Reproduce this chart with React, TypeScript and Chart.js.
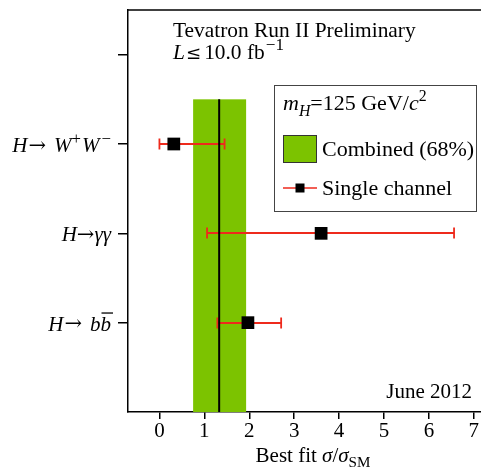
import React, { useEffect, useRef } from "react";
import { Chart, registerables } from "chart.js";

Chart.register(...registerables);

// ---- data ----
const channelPositions = [3, 2, 1];
const bestFit = [0.32, 3.6, 1.97];
const errLow = [0.32, 2.54, 0.68];
const errHigh = [1.13, 2.96, 0.74];
const combinedValue = 1.33;
const combinedLow = 0.58;
const combinedHigh = 0.6;
const combinedBandTop = 3.5;
const xTickValues = [0, 1, 2, 3, 4, 5, 6, 7];
const yTickValues = [1, 2, 3, 4];
const xMin = -0.7;
const xMax = 7.16;
const yMin = 0;
const yMax = 4.5;

const SERIF = "'Liberation Serif', 'Times New Roman', serif";
const DJ = "'DejaVu Serif', serif";
const GREEN = "#7cc300";
const RED = "#ee2a1c";

type Seg = { t: string; i?: boolean; s?: number; dy?: number; o?: boolean; f?: string; gap?: number };

const fnt = (size: number, italic?: boolean, fam?: string) =>
  `${italic ? "italic " : ""}${size}px ${fam || SERIF}`;

function segWidth(ctx: CanvasRenderingContext2D, s: Seg, size: number) {
  ctx.font = fnt(size * (s.s || 1), s.i, s.f);
  return ctx.measureText(s.t).width + (s.gap || 0);
}

function richWidth(ctx: CanvasRenderingContext2D, segs: Seg[], size: number) {
  let w = 0;
  for (const s of segs) w += segWidth(ctx, s, size);
  return w;
}

function drawRich(
  ctx: CanvasRenderingContext2D,
  segs: Seg[],
  x: number,
  y: number,
  size: number,
  align: "left" | "right" | "center" = "left"
) {
  const w = richWidth(ctx, segs, size);
  let cx = align === "right" ? x - w : align === "center" ? x - w / 2 : x;
  ctx.save();
  ctx.textAlign = "left";
  ctx.textBaseline = "alphabetic";
  ctx.fillStyle = "#000";
  for (const s of segs) {
    const sz = size * (s.s || 1);
    ctx.font = fnt(sz, s.i, s.f);
    const sw = ctx.measureText(s.t).width;
    const yy = y + (s.dy || 0) * size;
    ctx.fillText(s.t, cx, yy);
    if (s.o) {
      ctx.strokeStyle = "#000";
      ctx.lineWidth = 1.3;
      ctx.beginPath();
      ctx.moveTo(cx + 1, yy - 0.84 * sz);
      ctx.lineTo(cx + sw + 2, yy - 0.84 * sz);
      ctx.stroke();
    }
    cx += sw + (s.gap || 0);
  }
  ctx.restore();
}

const ARROW: Seg = { t: "\u2192", f: DJ, s: 1.0, dy: -0.02 };

const channelLabels: Seg[][] = [
  [
    { t: "H", i: true, gap: 1 },
    { ...ARROW, gap: 8 },
    { t: "W", i: true },
    { t: "+", s: 0.8, dy: -0.4, gap: 1 },
    { t: "W", i: true, gap: 2 },
    { t: "\u2212", s: 0.8, dy: -0.4 },
  ],
  [{ t: "H", i: true }, { ...ARROW }, { t: "\u03b3\u03b3", i: true }],
  [
    { t: "H", i: true, gap: 1 },
    { ...ARROW, gap: 8 },
    { t: "b", i: true },
    { t: "b", i: true, o: true },
  ],
];

const decorPlugin = {
  id: "decor",
  beforeDatasetsDraw(chart: any) {
    const ctx: CanvasRenderingContext2D = chart.ctx;
    const xs = chart.scales.x;
    const ys = chart.scales.y;
    const ca = chart.chartArea;
    ctx.save();
    // combined band
    const bx0 = xs.getPixelForValue(combinedValue - combinedLow);
    const bx1 = xs.getPixelForValue(combinedValue + combinedHigh);
    const by0 = ys.getPixelForValue(combinedBandTop);
    const by1 = ys.getPixelForValue(0);
    ctx.fillStyle = GREEN;
    ctx.fillRect(bx0, by0, bx1 - bx0, by1 - by0);
    // error bars
    ctx.strokeStyle = RED;
    ctx.lineWidth = 1.8;
    for (let k = 0; k < bestFit.length; k++) {
      const y = Math.round(ys.getPixelForValue(channelPositions[k]));
      const xl = xs.getPixelForValue(bestFit[k] - errLow[k]);
      const xh = xs.getPixelForValue(bestFit[k] + errHigh[k]);
      ctx.beginPath();
      ctx.moveTo(xl, y);
      ctx.lineTo(xh, y);
      ctx.moveTo(xl, y - 5.5);
      ctx.lineTo(xl, y + 5.5);
      ctx.moveTo(xh, y - 5.5);
      ctx.lineTo(xh, y + 5.5);
      ctx.stroke();
    }
    // combined central line
    const cx = xs.getPixelForValue(combinedValue);
    ctx.strokeStyle = "#000";
    ctx.lineWidth = 2;
    ctx.beginPath();
    ctx.moveTo(cx, by0);
    ctx.lineTo(cx, by1);
    ctx.stroke();
    // top frame line
    ctx.lineWidth = 1.5;
    ctx.beginPath();
    ctx.moveTo(ca.left, ca.top);
    ctx.lineTo(ca.right, ca.top);
    ctx.stroke();
    ctx.restore();
  },
  afterDraw(chart: any) {
    const ctx: CanvasRenderingContext2D = chart.ctx;
    const ys = chart.scales.y;
    const xs = chart.scales.x;
    // channel labels
    for (let k = 0; k < channelLabels.length; k++) {
      const y = ys.getPixelForValue(channelPositions[k]);
      drawRich(ctx, channelLabels[k], 111, y + 8, 21, "right");
    }
    // axis title
    drawRich(
      ctx,
      [
        { t: "Best fit " },
        { t: "\u03c3", i: true },
        { t: "/" },
        { t: "\u03c3", i: true },
        { t: "SM", s: 0.72, dy: 0.25 },
      ],
      313,
      462,
      21,
      "center"
    );
    // header
    drawRich(ctx, [{ t: "Tevatron Run II Preliminary" }], 173, 37, 21.4);
    drawRich(
      ctx,
      [
        { t: "L", i: true, gap: 1 },
        { t: "\u2264", f: DJ, s: 0.85, gap: 3 },
        { t: "10.0 fb", gap: 1 },
        { t: "\u22121", s: 0.8, dy: -0.4 },
      ],
      173,
      59,
      21.4
    );
    drawRich(ctx, [{ t: "June 2012" }], 472, 398, 21, "right");
    // legend
    ctx.save();
    ctx.strokeStyle = "#444";
    ctx.lineWidth = 1;
    ctx.strokeRect(274.5, 85.5, 202, 126);
    ctx.fillStyle = GREEN;
    ctx.fillRect(283, 135, 34, 28);
    ctx.strokeStyle = "#333";
    ctx.strokeRect(283.5, 135.5, 33, 27);
    ctx.strokeStyle = RED;
    ctx.lineWidth = 1.5;
    ctx.beginPath();
    ctx.moveTo(283, 188);
    ctx.lineTo(317, 188);
    ctx.stroke();
    ctx.fillStyle = "#000";
    ctx.fillRect(295.5, 183.5, 9, 9);
    ctx.restore();
    drawRich(
      ctx,
      [
        { t: "m", i: true },
        { t: "H", i: true, s: 0.72, dy: 0.25 },
        { t: "=125 GeV/" },
        { t: "c", i: true },
        { t: "2", s: 0.72, dy: -0.42 },
      ],
      283,
      110,
      22
    );
    drawRich(ctx, [{ t: "Combined (68%)" }], 322, 156, 22);
    drawRich(ctx, [{ t: "Single channel" }], 322, 195, 22);
  },
};

export default function App() {
  const ref = useRef<HTMLCanvasElement | null>(null);
  useEffect(() => {
    if (!ref.current) return;
    const chart = new Chart(ref.current, {
      type: "scatter",
      data: {
        datasets: [
          {
            label: "Single channel",
            data: bestFit.map((v, k) => ({ x: v, y: channelPositions[k] })),
            pointStyle: "rect",
            pointRadius: 9,
            pointHoverRadius: 9,
            backgroundColor: "#000",
            borderColor: "#000",
            borderWidth: 0,
          },
        ],
      },
      options: {
        responsive: false,
        animation: false,
        devicePixelRatio: 1,
        layout: { autoPadding: false, padding: { top: 10, left: 0, right: 0, bottom: 0 } },
        plugins: {
          legend: { display: false },
          tooltip: { enabled: false },
        },
        scales: {
          x: {
            type: "linear",
            min: xMin,
            max: xMax,
            afterBuildTicks: (s: any) => {
              s.ticks = xTickValues.map((v) => ({ value: v }));
            },
            afterFit: (s: any) => {
              s.height = 59;
              s.paddingLeft = 0;
              s.paddingRight = 0;
            },
            grid: {
              display: true,
              drawOnChartArea: false,
              drawTicks: true,
              tickLength: 7,
              color: "#000",
              lineWidth: 1.5,
            },
            border: { display: true, color: "#000", width: 1.5 },
            ticks: {
              color: "#000",
              font: { family: SERIF, size: 21 },
              padding: 0,
              maxRotation: 0,
              autoSkip: false,
              callback: (v: any) => String(v),
            },
          },
          y: {
            type: "linear",
            min: yMin,
            max: yMax,
            afterBuildTicks: (s: any) => {
              s.ticks = yTickValues.map((v) => ({ value: v }));
            },
            afterFit: (s: any) => {
              s.width = 128;
              s.paddingTop = 0;
              s.paddingBottom = 0;
            },
            grid: {
              display: true,
              drawOnChartArea: false,
              drawTicks: true,
              tickLength: 10,
              color: "#000",
              lineWidth: 1.5,
            },
            border: { display: true, color: "#000", width: 1.5 },
            ticks: { display: false },
          },
        },
      },
      plugins: [decorPlugin],
    });
    return () => chart.destroy();
  }, []);
  return (
    <canvas
      ref={ref}
      width={481}
      height={471}
      style={{ position: "absolute", left: 0, top: 0, width: 481, height: 471 }}
    />
  );
}
